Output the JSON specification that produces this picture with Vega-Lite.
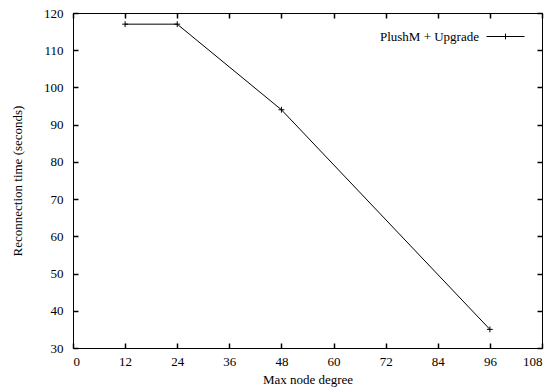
{
  "$schema": "https://vega.github.io/schema/vega-lite/v6.json",
  "width": 469,
  "height": 335,
  "autosize": "none",
  "padding": {"left": 73, "top": 13, "right": 14, "bottom": 41},
  "background": "white",
  "config": {
    "view": {"stroke": "black", "strokeWidth": 1},
    "axis": {
      "grid": false,
      "domainColor": "black",
      "tickColor": "black",
      "labelFont": "Liberation Serif",
      "labelFontSize": 13,
      "labelColor": "black",
      "titleFont": "Liberation Serif",
      "titleFontSize": 13,
      "titleFontWeight": "normal",
      "titleColor": "black"
    },
    "legend": {
      "orient": "none",
      "legendX": 413,
      "legendY": 4,
      "title": null,
      "symbolType": "M-1,0H1M0,-0.15V0.15",
      "symbolSize": 1444,
      "symbolStrokeColor": "black",
      "symbolFillColor": "transparent",
      "symbolStrokeWidth": 1,
      "labelFont": "Liberation Serif",
      "labelFontSize": 13,
      "labelColor": "black",
      "labelAlign": "right",
      "labelOffset": -46
    }
  },
  "data": {
    "values": [
      {"degree": 12, "time": 117, "series": "PlushM + Upgrade"},
      {"degree": 24, "time": 117, "series": "PlushM + Upgrade"},
      {"degree": 48, "time": 94, "series": "PlushM + Upgrade"},
      {"degree": 96, "time": 35, "series": "PlushM + Upgrade"}
    ]
  },
  "layer": [
    {
      "mark": {"type": "line", "color": "black", "strokeWidth": 1},
      "encoding": {
        "x": {
          "field": "degree", "type": "quantitative",
          "scale": {"domain": [0, 108], "nice": false, "zero": false},
          "axis": {"values": [0, 12, 24, 36, 48, 60, 72, 84, 96, 108], "title": "Max node degree", "labelPadding": 12, "titlePadding": 5, "ticks": true, "tickSize": -5, "tickWidth": 1.5, "tickColor": "black", "tickOpacity": 1}
        },
        "y": {
          "field": "time", "type": "quantitative",
          "scale": {"domain": [30, 120], "nice": false, "zero": false},
          "axis": {"values": [30, 40, 50, 60, 70, 80, 90, 100, 110, 120], "title": "Reconnection time (seconds)", "labelPadding": 15, "titlePadding": 19, "ticks": true, "tickSize": -5, "tickWidth": 1.5, "tickColor": "black", "tickOpacity": 1}
        },
        "color": {
          "field": "series", "type": "nominal",
          "scale": {"range": ["black"]}
        }
      }
    },
    {
      "mark": {"type": "point", "shape": "M-1,0H1M0,-1V1", "filled": false, "stroke": "black", "strokeWidth": 1, "size": 34, "opacity": 1},
      "encoding": {
        "x": {
          "field": "degree", "type": "quantitative",
          "scale": {"domain": [0, 108], "nice": false, "zero": false},
          "axis": {"orient": "top", "values": [0, 12, 24, 36, 48, 60, 72, 84, 96, 108], "labels": false, "title": null, "domain": false, "ticks": true, "tickSize": -5, "tickWidth": 1.5, "tickColor": "black", "tickOpacity": 1}
        },
        "y": {
          "field": "time", "type": "quantitative",
          "scale": {"domain": [30, 120], "nice": false, "zero": false},
          "axis": {"orient": "right", "values": [30, 40, 50, 60, 70, 80, 90, 100, 110, 120], "labels": false, "title": null, "domain": false, "ticks": true, "tickSize": -5, "tickWidth": 1.5, "tickColor": "black", "tickOpacity": 1}
        }
      }
    }
  ],
  "resolve": {"axis": {"x": "independent", "y": "independent"}}
}
